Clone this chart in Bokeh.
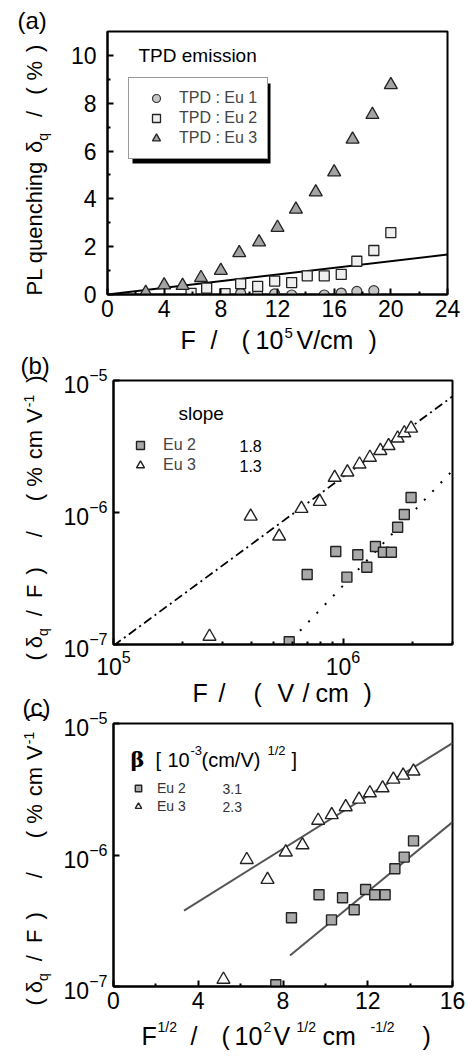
import math
from bokeh.plotting import figure
from bokeh.layouts import column, row
from bokeh.models import (Range1d, Label, Legend, LegendItem, BoxAnnotation, FixedTicker)
from bokeh.embed import file_html
from bokeh.resources import INLINE

FONT = "Liberation Sans"

# ---------------- data: panel (a)  PL quenching vs F (10^5 V/cm) ----------------
a_xticks = [0, 4, 8, 12, 16, 20, 24]
a_yticks = [0, 2, 4, 6, 8, 10]
a_eu1_F = [9.4, 10.6, 11.8, 13.0, 15.3, 16.5, 17.6, 18.8]
a_eu1_dq = [0.05, 0.03, 0.03, -0.02, -0.02, 0.06, 0.13, 0.16]
a_eu2_F = [5.9, 7.0, 8.3, 9.4, 10.6, 11.8, 13.0, 14.1, 15.3, 16.5, 17.6, 18.8, 20.0]
a_eu2_dq = [0.05, 0.27, 0.04, 0.45, 0.34, 0.56, 0.50, 0.78, 0.78, 0.84, 1.39, 1.84, 2.59]
a_eu3_F = [2.7, 4.0, 5.3, 6.6, 8.0, 9.3, 10.7, 12.0, 13.3, 14.7, 16.0, 17.3, 18.7, 20.0]
a_eu3_dq = [0.08, 0.39, 0.37, 0.70, 1.00, 1.74, 2.19, 2.80, 3.56, 4.28, 5.12, 6.49, 7.52, 8.77]
a_fit_F = [0, 24]
a_fit_dq = [0, 1.67]

# ---------------- data: panel (b)  delta/F vs F (V/cm), log-log ----------------
b_xticks = [1e5, 1e6]
b_xminor = [2e5, 3e5, 4e5, 5e5, 6e5, 7e5, 8e5, 9e5, 2e6, 3e6]
b_eu2_F = [5.83e5, 6.98e5, 9.3e5, 1.04e6, 1.16e6, 1.27e6, 1.385e6, 1.5e6, 1.625e6, 1.73e6, 1.85e6, 1.98e6]
b_eu2_y = [1.05e-7, 3.39e-7, 5.07e-7, 3.24e-7, 4.78e-7, 3.85e-7, 5.52e-7, 5.0e-7, 5.0e-7, 7.74e-7, 9.66e-7, 1.30e-6]
b_eu3_F = [2.62e5, 3.96e5, 5.27e5, 6.59e5, 7.92e5, 9.2e5, 1.045e6, 1.18e6, 1.31e6, 1.455e6, 1.58e6, 1.73e6, 1.85e6, 1.98e6]
b_eu3_y = [1.15e-7, 9.35e-7, 6.6e-7, 1.07e-6, 1.21e-6, 1.84e-6, 2.02e-6, 2.32e-6, 2.61e-6, 2.94e-6, 3.2e-6, 3.65e-6, 4.0e-6, 4.34e-6]
b_fit3_F = [1e5, 3e6]
b_fit3_y = [9.8e-8, 7.57e-6]
b_fit2_F = [6.5e5, 3e6]
b_fit2_y = [1.27e-7, 2.08e-6]
b_slopes = ["1.8", "1.3"]

# ---------------- data: panel (c)  delta/F vs F^1/2 ----------------
c_xticks = [0, 4, 8, 12, 16]
c_eu2_x = [7.66, 8.40, 9.70, 10.29, 10.81, 11.36, 11.90, 12.33, 12.82, 13.28, 13.72, 14.16]
c_eu2_y = [1.03e-7, 3.33e-7, 4.99e-7, 3.21e-7, 4.73e-7, 3.83e-7, 5.47e-7, 4.99e-7, 4.99e-7, 7.87e-7, 9.64e-7, 1.28e-6]
c_eu3_x = [5.19, 6.29, 7.27, 8.13, 8.92, 9.66, 10.30, 10.96, 11.59, 12.10, 12.70, 13.21, 13.67, 14.16]
c_eu3_y = [1.13e-7, 9.2e-7, 6.5e-7, 1.05e-6, 1.19e-6, 1.83e-6, 2.02e-6, 2.32e-6, 2.65e-6, 2.96e-6, 3.23e-6, 3.76e-6, 4.03e-6, 4.33e-6]
c_fit3_x = [3.33, 16]
c_fit3_y = [3.78e-7, 7.1e-6]
c_fit2_x = [8.33, 16]
c_fit2_y = [1.72e-7, 1.78e-6]
c_betas = ["3.1", "2.3"]

# ---------------- helpers ----------------
AW = {' ': 278, '(': 333, ')': 333, '/': 278, '%': 889, '-': 333, '.': 278, ':': 278,
      'a': 556, 'b': 556, 'c': 500, 'd': 556, 'e': 556, 'f': 278, 'g': 556, 'h': 556,
      'i': 222, 'j': 222, 'k': 500, 'l': 222, 'm': 833, 'n': 556, 'o': 556, 'p': 556,
      'q': 556, 'r': 333, 's': 500, 't': 278, 'u': 556, 'v': 500, 'w': 722, 'x': 500,
      'y': 500, 'z': 500, 'F': 611, 'L': 556, 'P': 667, 'V': 667, 'E': 667, 'T': 611,
      'D': 722, '\u03b4': 556}
MID = 0.35  # distance from the alphabetic baseline to the text middle, in em


def tw(s, size):
    return sum(AW.get(c, 556) for c in s) * size / 1000.0


def label(p, fr, X, Y, text, size, angle=0.0, font=FONT, color="black", style="normal"):
    """(X, Y): page position of the start of the alphabetic baseline."""
    L, B = fr
    if angle:
        X = X - MID * size
    else:
        Y = Y - MID * size
    p.add_layout(Label(x=X - L, y=B - Y, x_units="screen", y_units="screen",
                       text=text, angle=angle, text_font=font,
                       text_font_size=f"{size}px", text_font_style=style,
                       text_color=color, text_align="left", text_baseline="middle"))


def vrun(p, fr, Xb, Ystart, segs):
    pos = 0.0
    for text, size, shift, gap in segs:
        pos += gap
        label(p, fr, Xb + shift, Ystart - pos, text, size, angle=math.pi / 2)
        pos += tw(text, size)


def strip(w, h):
    s = figure(width=w, height=h, x_range=Range1d(0, 1), y_range=Range1d(0, 1), title=None,
               output_backend="svg", toolbar_location=None,
               x_axis_location=None, y_axis_location=None, min_border=0)
    s.xgrid.visible = False
    s.ygrid.visible = False
    s.outline_line_color = None
    s.background_fill_color = "white"
    s.border_fill_color = "white"
    return s


def make_fig(w, h, bl, br, bt, bb, xr, yr, xt="linear", yt="linear"):
    p = figure(width=w, height=h, x_range=xr, y_range=yr, x_axis_type=xt, y_axis_type=yt,
               output_backend="svg", toolbar_location=None, title=None,
               min_border_left=bl, min_border_right=br, min_border_top=bt, min_border_bottom=bb)
    p.grid.visible = False
    p.outline_line_color = "black"
    p.outline_line_width = 2
    p.outline_line_alpha = 1
    p.background_fill_color = "white"
    p.border_fill_color = "white"
    for ax in (p.xaxis[0], p.yaxis[0]):
        ax.axis_line_width = 2
        ax.axis_line_color = "black"
        ax.major_tick_in = 6
        ax.major_tick_out = 0
        ax.minor_tick_in = 3
        ax.minor_tick_out = 0
        ax.major_tick_line_width = 2
        ax.minor_tick_line_width = 2
        ax.major_tick_line_color = "black"
        ax.minor_tick_line_color = "black"
        ax.major_label_text_font = FONT
        ax.major_label_text_font_size = "23px"
        ax.major_label_text_color = "black"
    p.xaxis.major_label_standoff = 5
    p.yaxis.major_label_standoff = 11
    return p


TRI_A = dict(marker="triangle", size=13, fill_color="#a3a3a3", line_color="#222222", line_width=1.3)
SQ_A = dict(marker="square", size=10, fill_color="#efefef", line_color="#222222", line_width=1.3)
CI_A = dict(marker="circle", size=10, fill_color="#c6c6c6", line_color="#333333", line_width=1.2)
TRI_B = dict(marker="triangle", size=13, fill_color="white", line_color="#222222", line_width=1.4)
SQ_B = dict(marker="square", size=10, fill_color="#a9a9a9", line_color="#222222", line_width=1.4)

TOTAL_H = 1055
LEFT_W = 58
MAIN_W = 410

# ================= panel (a) =================
pa = make_fig(MAIN_W, 322, 49, 21, 31, 28, Range1d(0, 24), Range1d(0, 11))
FA = (107, 294)
pa.xaxis.ticker = FixedTicker(ticks=a_xticks, minor_ticks=[2, 6, 10, 14, 18, 22])
pa.yaxis.ticker = FixedTicker(ticks=a_yticks, minor_ticks=[1, 3, 5, 7, 9])

pa.line(a_fit_F, a_fit_dq, line_color="black", line_width=2)
r_a1 = pa.scatter(a_eu1_F, a_eu1_dq, **CI_A)
r_a2 = pa.scatter(a_eu2_F, a_eu2_dq, **SQ_A)
r_a3 = pa.scatter(a_eu3_F, a_eu3_dq, **TRI_A)

pa.add_layout(BoxAnnotation(left=132 - FA[0], right=270 - FA[0], top=FA[1] - 83, bottom=FA[1] - 163,
                            left_units="screen", right_units="screen", top_units="screen",
                            bottom_units="screen", fill_color="black", fill_alpha=1,
                            line_color=None))
leg_a = Legend(items=[LegendItem(label="TPD : Eu 1", renderers=[r_a1]),
                      LegendItem(label="TPD : Eu 2", renderers=[r_a2]),
                      LegendItem(label="TPD : Eu 3", renderers=[r_a3])],
               location=(128 - FA[0], FA[1] - 159), padding=10, spacing=0, margin=0,
               glyph_width=34, glyph_height=20, label_height=20, label_standoff=6,
               label_text_font=FONT, label_text_font_size="16px",
               border_line_color="#333333", border_line_width=1,
               background_fill_color="white", background_fill_alpha=1)
pa.add_layout(leg_a)
label(pa, FA, 138, 62, "TPD emission", 19)

xa = strip(MAIN_W, 38)
XA = (LEFT_W, 360)
for t, x in [("F", 180), ("/", 210), ("(", 241), ("10", 255), ("V/cm", 296), (")", 368)]:
    label(xa, XA, x, 348, t, 25)
label(xa, XA, 284, 338, "5", 15)

# ================= panel (b) =================
pb = make_fig(MAIN_W, 318, 55, 16, 20, 34, Range1d(1e5, 3e6), Range1d(1e-7, 1e-5), "log", "log")
FB = (113, 644)
pb.xaxis.ticker = FixedTicker(ticks=b_xticks, minor_ticks=b_xminor)
pb.yaxis.minor_tick_line_color = None
pb.yaxis.major_label_standoff = 6

pb.line(b_fit3_F, b_fit3_y, line_color="black", line_width=1.8, line_dash="9 4 2 4")
pb.line(b_fit2_F, b_fit2_y, line_color="black", line_width=2, line_dash="2 10")
r_b2 = pb.scatter(b_eu2_F, b_eu2_y, **SQ_B)
r_b3 = pb.scatter(b_eu3_F, b_eu3_y, **TRI_B)

leg_b = Legend(items=[LegendItem(label="Eu 2", renderers=[r_b2]),
                      LegendItem(label="Eu 3", renderers=[r_b3])],
               location=(130 - FB[0], FB[1] - 475), padding=0, spacing=0, margin=0,
               glyph_width=20, glyph_height=20, label_height=20, label_standoff=13,
               label_text_font=FONT, label_text_font_size="16px",
               border_line_color=None, background_fill_alpha=0)
pb.add_layout(leg_b)
label(pb, FB, 178, 420, "slope", 19)
label(pb, FB, 239, 451, b_slopes[0], 16)
label(pb, FB, 239, 471, b_slopes[1], 16)

xb = strip(MAIN_W, 30)
XB = (LEFT_W, 708)
for t, x in [("F", 192), ("/", 218), ("(", 253), ("V", 277), ("/", 302), ("cm", 315), (")", 363)]:
    label(xb, XB, x, 701, t, 25)

# ================= panel (c) =================
pc = make_fig(MAIN_W, 307, 55, 16, 15, 29, Range1d(0, 16), Range1d(1e-7, 1e-5), "linear", "log")
FC = (113, 986)
pc.xaxis.ticker = FixedTicker(ticks=c_xticks, minor_ticks=[2, 6, 10, 14])
pc.yaxis.minor_tick_line_color = None
pc.yaxis.major_label_standoff = 6

pc.line(c_fit3_x, c_fit3_y, line_color="#555555", line_width=2)
pc.line(c_fit2_x, c_fit2_y, line_color="#555555", line_width=2)
r_c2 = pc.scatter(c_eu2_x, c_eu2_y, **SQ_B)
r_c3 = pc.scatter(c_eu3_x, c_eu3_y, **TRI_B)

leg_c = Legend(items=[LegendItem(label="Eu 2", renderers=[r_c2]),
                      LegendItem(label="Eu 3", renderers=[r_c3])],
               location=(130 - FC[0], FC[1] - 815), padding=0, spacing=0, margin=0,
               glyph_width=16, glyph_height=18, label_height=18, label_standoff=11,
               label_text_font=FONT, label_text_font_size="14px", label_text_color="#333333",
               border_line_color=None, background_fill_alpha=0)
pc.add_layout(leg_c)
label(pc, FC, 130, 766, "\u03b2", 21, font="DejaVu Serif", style="bold")
for t, x in [("[", 155), ("10", 167), ("(cm/V)", 201), ("]", 291)]:
    label(pc, FC, x, 766, t, 20)
label(pc, FC, 190, 755, "-3", 13)
label(pc, FC, 267, 755, "1/2", 13)
label(pc, FC, 222, 793, c_betas[0], 14, color="#333333")
label(pc, FC, 222, 811, c_betas[1], 14, color="#333333")

xc = strip(MAIN_W, 40)
XC = (LEFT_W, TOTAL_H)
for t, x in [("F", 141), ("/", 190), ("(", 221), ("10", 234), ("V", 273), ("cm", 322), (")", 422)]:
    label(xc, XC, x, 1044, t, 25)
for t, x in [("1/2", 157), ("2", 263), ("1/2", 296), ("-1/2", 370)]:
    label(xc, XC, x, 1031, t, 14)

# ================= left strip: panel tags and y-axis titles =================
ls = strip(LEFT_W, TOTAL_H)
LS = (0, TOTAL_H)
label(ls, LS, 17, 28, "(a)", 24)
label(ls, LS, 20, 373, "(b)", 24)
label(ls, LS, 22, 715, "(c)", 24)
vrun(ls, LS, 42, 295, [("PL quenching", 22, 0, 0), ("\u03b4", 22, 0, 8), ("q", 14, 5, 0),
                       ("/", 22, 0, 16), ("(", 22, 0, 16), ("%", 22, 0, 7), (")", 22, 0, 9)])
YSEG = [("(", 22, 0, 0), ("\u03b4", 22, 0, 5), ("q", 14, 5, 0), ("/", 22, 0, 12), ("F", 22, 0, 12),
        (")", 22, 0, 10), ("/", 22, 0, 30), ("(", 22, 0, 30), ("%", 22, 0, 7), ("cm", 22, 0, 8),
        ("V", 22, 0, 7), ("-1", 14, -9, 1), (")", 22, 0, 12)]
vrun(ls, LS, 42, 660, YSEG)
YSEG_C = [("(", 22, 0, 0), ("\u03b4", 22, 0, 5), ("q", 14, 5, 0), ("/", 22, 0, 12), ("F", 22, 0, 12),
          (")", 22, 0, 10), ("/", 22, 0, 34), ("(", 22, 0, 34), ("%", 22, 0, 7), ("cm", 22, 0, 8),
          ("V", 22, 0, 7), ("-1", 14, -9, 1), (")", 22, 0, 12)]
vrun(ls, LS, 42, 1005, YSEG_C)

right = column(row(pa), xa, row(pb), xb, row(pc), xc, spacing=0)
layout = row(ls, right, spacing=0)
open("out.html", "w").write(file_html(layout, INLINE))
